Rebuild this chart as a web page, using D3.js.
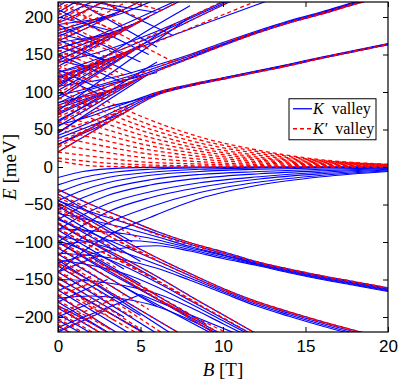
<!DOCTYPE html>
<html>
<head>
<meta charset="utf-8">
<script src="https://cdn.jsdelivr.net/npm/d3@7"></script>
<style>
  body { margin: 0; background: #fff; }
</style>
</head>
<body>
<div id="chart"></div>
<script>
/* magnetic field grid (T) used by the level curves */
const bGrid = [0, 2, 4, 6, 8, 10, 12, 14, 16, 18, 20];
/* grids used by the two valley fans */
const kpFanB = [0, 2.5, 5, 8.6, 12, 16, 20];
const kFanB = [0, 1.5, 3, 5.6, 8.6, 12.2, 16, 20];

/* Landau levels present in both valleys, E (meV) on bGrid */
const levelsUp = [
    [20, 46, 72, 96, 108, 117, 126, 135, 145, 154, 163],
    [72, 92, 110, 128, 145, 162, 178, 192, 204, 217, 229],
    [112, 132, 152, 173, 195, 216, 237],
    [142, 162, 184, 206, 228],
    [168, 188, 210, 232],
    [192, 212, 234]
];
const levelsDown = [
    [-30, -50, -68, -86, -101, -113, -126, -136, -145, -153, -161],
    [-48, -72, -98, -121, -142, -162, -179, -193, -206, -218, -230],
    [-75, -100, -122, -146, -172, -197, -222],
    [-100, -125, -150, -176, -202, -228],
    [-128, -152, -178, -204, -230],
    [-155, -180, -206, -232],
    [-185, -208, -234]
];

/* K valley levels that run into the bundles, E on bGrid */
const kBundleUp = [
    [30, 52, 76, 97, 108.5, 118, 127, 136, 145.5, 154.5, 163.5],
    [42, 60, 80, 98, 109, 118.5, 127.5, 136.5, 146, 155, 164],
    [56, 68, 84, 99.5, 110, 119, 128, 137, 146.5, 155.5, 164.5],
    [82, 99, 115, 130, 146, 163, 179, 193, 205, 218, 230],
    [95, 106, 119, 133, 148, 164, 180, 194, 206, 219, 231],
    [108, 114, 123, 136, 150, 166, 181, 195, 207, 220, 232],
    [120, 136, 152, 168, 184, 200, 216, 232],
    [126, 141, 158, 177, 198, 218, 239],
    [140, 150, 164, 181, 200, 220, 241],
    [158, 172, 190, 210, 230],
    [178, 192, 206, 224]
];
const kBundleDown = [
    [-45, -60, -74, -89, -103, -115, -127, -137, -146, -154, -162],
    [-62, -71, -81, -93, -106, -117, -128, -138, -147, -155, -163],
    [-82, -85, -89, -97, -108, -118, -129, -139, -148, -156, -164],
    [-104, -99, -98, -101, -110, -120, -130, -140, -149, -157, -165],
    [-128, -116, -108, -105, -112, -122, -131, -141, -150, -158, -166],
    [-70, -88, -106, -125, -145, -164, -181, -195, -208, -220, -232],
    [-92, -101, -114, -130, -148, -166, -183, -197, -210, -222, -234],
    [-115, -118, -124, -135, -151, -168, -185, -199, -212, -224, -236],
    [-98, -114, -132, -154, -178, -202, -226],
    [-124, -131, -142, -160, -182, -205, -228],
    [-150, -152, -158, -169, -187, -209, -231],
    [-175, -172, -176, -186, -204, -226]
];
/* K' valley levels doubling the bundles, E on bGrid */
const kpBundle = [
    [26, 52, 78, 99, 110, 118.5, 127, 136, 146, 155, 164],
    [78, 98, 116, 133, 149, 165, 180, 193, 205, 218, 230],
    [116, 133, 150, 167, 185, 203, 221, 239],
    [118, 138, 158, 179, 200, 221, 240],
    [-36, -56, -73, -90, -104, -115, -127, -137, -146, -154, -162],
    [-55, -78, -103, -125, -145, -164, -181, -194, -207, -219, -231],
    [-82, -106, -128, -152, -177, -201, -226]
];

/* K' valley states falling onto E = 0, E on kpFanB */
const kpFan = [
    [8, 1, 0.3, 0, 0, 0, 0],
    [12, 6, 3, 1.5, 0.8, 0.4, 0.2],
    [20, 13, 7, 4, 2, 1, 0.5],
    [30, 21, 13, 7, 3.5, 1.8, 0.8],
    [40, 29, 19, 10.5, 5.5, 2.8, 1.2],
    [50, 37, 25, 14, 7.5, 3.6, 1.5],
    [60, 45, 31, 17.5, 9.5, 4.5, 1.9],
    [71, 53, 37, 21, 11.5, 5.4, 2.2],
    [82, 61, 43, 24.5, 13.5, 6.3, 2.5],
    [93, 69, 49, 28, 16, 7.2, 2.8],
    [104, 77, 55, 32, 18.5, 8, 3.1],
    [115, 85, 61, 36, 21, 8.7, 3.4],
    [126, 93, 68, 40, 23, 9.5, 3.7]
];
/* K valley states rising onto E = 0, E on kFanB */
const kFan = [
    [-14, -6, -2.5, -0.5, 0, 0, 0, 0],
    [-24, -14, -8, -3, -1, -0.3, 0, 0],
    [-34, -22, -14, -7, -3, -1.2, -0.5, -0.2],
    [-45, -31, -21, -11, -6, -3, -1.3, -0.6],
    [-57, -41, -29, -17, -10, -6, -3, -1.2],
    [-70, -52, -38, -24, -15, -9, -5, -2],
    [-84, -64, -49, -33, -21, -13, -7, -3],
    [-100, -78, -60, -41, -27, -16, -9, -4],
    [-118, -94, -75, -53, -34, -20, -11, -5],
    [-140, -113, -92, -67, -42, -24, -13, -6]
];

/* low-field crossings of the K valley, [B0, E0, B1, E1, ...] */
const kMess = [
    [0, 30, 3, 59], [0, 38, 4, 72], [0, 46, 5.5, 124], [0, 54, 5, 119], [0, 62, 4.5, 114],
    [0, 70, 4, 110], [0, 78, 3.4, 104], [0, 86, 3, 101],
    [0, 94, 5, 162], [0, 102, 4.5, 157], [0, 110, 4, 152], [0, 118, 3.5, 147], [0, 126, 3, 142],
    [0, 134, 5.5, 200], [0, 142, 5, 195], [0, 150, 4.5, 190], [0, 158, 4, 184], [0, 166, 3.5, 178],
    [0, 174, 4, 210], [0, 182, 3.5, 205], [0, 190, 3, 199], [0, 198, 2.2, 222], [0, 206, 1.2, 222],
    [0, 214, 0.6, 222],
    [0, 107, 6.5, 196, 8, 215], [0, 90, 7, 190], [0, 75, 8, 200], [0, 60, 6, 140],
    [0, 45, 1.5, 66, 3, 80, 4.5, 88, 6, 96], [0, 85, 1.5, 100, 3, 110, 4.5, 118, 6, 126],
    [0, 122, 2.5, 97], [0, 160, 3, 142], [0, 200, 3.5, 180], [0, 222, 4, 207], [1.5, 222, 6, 206],
    [0, 178, 2.5, 164], [0, 142, 2, 132],
    [0, 100, 2, 80], [0, 130, 3, 100], [0, 150, 4, 112], [0, 170, 4.5, 125], [0, 190, 5, 140],
    [0, 210, 5.5, 150], [1, 222, 6, 160], [2.5, 222, 7, 175],
    [0, -36, 3, -74], [0, -44, 4.5, -100], [0, -52, 2.5, -84], [0, -60, 5, -126], [0, -68, 3.5, -112],
    [0, -76, 6, -150], [0, -84, 4, -136], [0, -92, 5, -156], [0, -100, 3, -140], [0, -108, 6, -186],
    [0, -116, 4.5, -176], [0, -124, 7, -224], [0, -132, 5, -198], [0, -140, 6, -222], [0, -148, 4, -200],
    [0, -156, 5.5, -224], [0, -164, 4.5, -224], [0, -172, 3.8, -224], [0, -180, 3.3, -224],
    [0, -188, 2.8, -224], [0, -196, 2.2, -224], [0, -204, 1.6, -224], [0, -212, 1, -224],
    [2, -120, 9, -210], [3, -140, 10, -224], [4, -160, 9.5, -224], [5, -170, 11, -224],
    [0, -220, 3, -190], [0, -200, 2.5, -176], [0, -180, 3, -150], [0, -165, 2, -146],
    [0, -214, 5, -170], [0, -140, 2.5, -118]
];
/* low-field crossings of the K' valley, [B0, E0, B1, E1, ...] */
const kpMess = [
    [0, 34, 3.5, 65], [0, 48, 4.5, 78], [0, 58, 5.2, 121], [0, 66, 4.6, 115], [0, 74, 3.8, 108],
    [0, 82, 3.2, 103], [0, 90, 5.2, 164], [0, 98, 4.7, 159], [0, 106, 4.2, 154], [0, 114, 3.7, 149],
    [0, 122, 3.2, 144], [0, 130, 5.2, 197], [0, 138, 4.8, 192], [0, 146, 4.2, 186], [0, 154, 3.7, 181],
    [0, 162, 3.2, 176], [0, 170, 4.3, 222], [0, 178, 3.6, 222], [0, 186, 2.8, 222], [0, 194, 2.2, 222],
    [0, 202, 1.6, 222], [0, 210, 1, 222],
    [0, 136, 3, 104], [0, 148, 3.6, 106], [0, 156, 4.3, 113], [0, 166, 4.6, 116], [0, 176, 3.2, 144],
    [0, 186, 3.7, 149], [0, 196, 4, 152], [0, 206, 3.2, 175], [0, 216, 3.6, 180], [1, 222, 4.2, 186],
    [2.5, 222, 5.2, 196], [4, 222, 6.4, 208], [0, 220, 7, 140],
    [0, -40, 5, -96], [0, -50, 3, -90], [0, -58, 6, -124], [0, -66, 4, -116], [0, -74, 2.5, -104],
    [0, -82, 5, -140], [0, -90, 3.5, -134], [0, -98, 6, -170], [0, -106, 4, -160], [0, -114, 5.5, -190],
    [0, -122, 3, -162], [0, -130, 6.5, -224], [0, -138, 4.5, -200], [0, -146, 5, -216], [0, -154, 3.5, -206],
    [0, -162, 5, -224], [0, -170, 3, -214], [0, -178, 3.8, -224], [0, -186, 2.5, -220], [0, -194, 2.4, -224],
    [0, -202, 1.8, -224], [0, -210, 1, -224],
    [2.5, -128, 8, -196], [4, -150, 10, -224], [6, -176, 10.5, -224], [3.5, -120, 8.5, -182],
    [0, -218, 3, -190], [0, -196, 2, -176], [0, -172, 2.5, -150], [0, -150, 1.5, -136], [0, -208, 4, -170]
];

const xTicks = [0, 5, 10, 15, 20];
const yTicks = [-200, -150, -100, -50, 0, 50, 100, 150, 200];

const margin = { top: 2, right: 11, bottom: 53, left: 58 },
    width = 399 - margin.left - margin.right,
    height = 385 - margin.top - margin.bottom;

const svg = d3.select("#chart")
    .append("svg")
    .attr("width", 399)
    .attr("height", 385)
    .append("g")
    .attr("transform", `translate(${margin.left}, ${margin.top})`);

let x = d3.scaleLinear().domain([0, 20]).range([0, width]);
let y = d3.scaleLinear().domain([-220, 220]).range([height, 0]);

svg.append("clipPath").attr("id", "clip")
    .append("rect").attr("width", width).attr("height", height);

const line = d3.line()
    .x(d => x(d[0]))
    .y(d => y(d[1]))
    .curve(d3.curveMonotoneX);

const onGrid = (bs, es) => es.map((e, i) => [bs[i], e]);
const pairs = arr => d3.range(0, arr.length, 2).map(i => [arr[i], arr[i + 1]]);

const kCurves = [
    ...kMess.map(pairs),
    ...levelsUp.map(d => onGrid(bGrid, d)),
    ...levelsDown.map(d => onGrid(bGrid, d)),
    ...kBundleUp.map(d => onGrid(bGrid, d)),
    ...kBundleDown.map(d => onGrid(bGrid, d)),
    ...kFan.map(d => onGrid(kFanB, d))
];
const kpCurves = [
    ...kpMess.map(pairs),
    ...levelsUp.map(d => onGrid(bGrid, d)),
    ...levelsDown.map(d => onGrid(bGrid, d)),
    ...kpBundle.map(d => onGrid(bGrid, d)),
    ...kpFan.map(d => onGrid(kpFanB, d))
];

const plot = svg.append("g").attr("clip-path", "url(#clip)");

plot.selectAll(".k")
    .data(kCurves)
    .enter()
    .append("path")
    .attr("d", line)
    .attr("fill", "none")
    .attr("stroke", "#0000ff")
    .attr("stroke-width", 1.2);

plot.selectAll(".kp")
    .data(kpCurves)
    .enter()
    .append("path")
    .attr("d", line)
    .attr("fill", "none")
    .attr("stroke", "#ff0000")
    .attr("stroke-width", 1.3)
    .attr("stroke-dasharray", "4,3");

/* axes, ticks pointing inwards on all four sides */
const tickFont = "'Liberation Sans', Arial, sans-serif";

svg.append("g")
    .attr("transform", `translate(0, ${height})`)
    .call(d3.axisBottom(x).tickValues(xTicks).tickSizeInner(-5).tickSizeOuter(0).tickPadding(8))
    .call(g => g.select(".domain").remove())
    .selectAll("text")
    .style("font-family", tickFont)
    .style("font-size", "17px")
    .attr("fill", "black");

svg.append("g")
    .call(d3.axisTop(x).tickValues(xTicks).tickSizeInner(-5).tickSizeOuter(0).tickFormat(""))
    .call(g => g.select(".domain").remove());

svg.append("g")
    .call(d3.axisLeft(y).tickValues(yTicks).tickSizeInner(-5).tickSizeOuter(0).tickPadding(5))
    .call(g => g.select(".domain").remove())
    .selectAll("text")
    .style("font-family", tickFont)
    .style("font-size", "17px")
    .attr("fill", "black");

svg.append("g")
    .attr("transform", `translate(${width}, 0)`)
    .call(d3.axisRight(y).tickValues(yTicks).tickSizeInner(-5).tickSizeOuter(0).tickFormat(""))
    .call(g => g.select(".domain").remove());

svg.append("rect")
    .attr("width", width)
    .attr("height", height)
    .attr("fill", "none")
    .attr("stroke", "black")
    .attr("stroke-width", 1.2);

/* axis labels */
const serif = "'Liberation Serif', 'DejaVu Serif', serif";

const xLabel = svg.append("text")
    .attr("x", width / 2)
    .attr("y", height + 44)
    .attr("text-anchor", "middle")
    .style("font-family", serif)
    .style("font-size", "19px");
xLabel.append("tspan").style("font-style", "italic").text("B");
xLabel.append("tspan").text(" [T]");

const yLabel = svg.append("text")
    .attr("transform", `translate(${-42}, ${height / 2}) rotate(-90)`)
    .attr("text-anchor", "middle")
    .style("font-family", serif)
    .style("font-size", "19px");
yLabel.append("tspan").style("font-style", "italic").text("E");
yLabel.append("tspan").text(" [meV]");

/* legend */
const legend = svg.append("g").attr("transform", `translate(${x(14)}, ${y(91)})`);
legend.append("rect")
    .attr("width", 87)
    .attr("height", 41)
    .attr("fill", "white")
    .attr("stroke", "black")
    .attr("stroke-width", 1);

const legendItems = [
    { name: "K", prime: "", color: "#0000ff", dash: null },
    { name: "K", prime: "\u2032", color: "#ff0000", dash: "4,3" }
];
legendItems.forEach((d, i) => {
    const yy = 10 + i * 20;
    legend.append("line")
        .attr("x1", 4).attr("x2", 23)
        .attr("y1", yy).attr("y2", yy)
        .attr("stroke", d.color)
        .attr("stroke-width", 1.3)
        .attr("stroke-dasharray", d.dash);
    const t = legend.append("text")
        .attr("x", 24)
        .attr("y", yy + 5)
        .style("font-family", serif)
        .style("font-size", "16px");
    t.append("tspan").style("font-style", "italic").text(d.name + d.prime);
    t.append("tspan").text("  valley").attr("xml:space", "preserve");
});
</script>
</body>
</html>
